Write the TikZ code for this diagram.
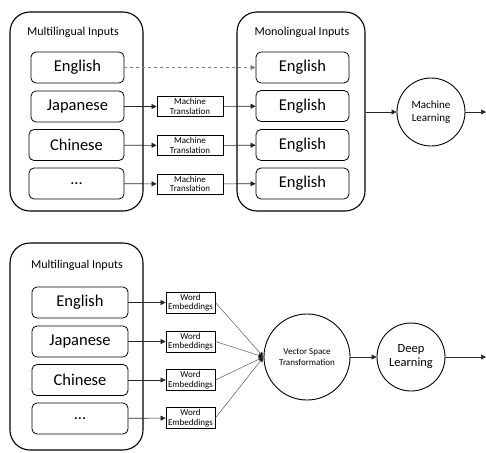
\documentclass[tikz,border=0pt]{standalone}
\usepackage{fontspec}
\setmainfont{Carlito}
\usetikzlibrary{arrows.meta}

\begin{document}
\begin{tikzpicture}[x=1pt, y=-1pt, >={Triangle[length=5pt,width=5pt]},
    outerbox/.style={draw, line width=1.1pt, rounded corners=20pt, minimum width=133pt},
    langbox/.style={draw, line width=0.8pt, rounded corners=5pt, minimum height=31pt, font=\fontsize{16.5}{16}\selectfont},
    smallbox/.style={draw, line width=0.8pt, inner sep=1pt, align=center, font=\fontsize{9}{9.5}\selectfont},
    stage/.style={draw, circle, line width=0.9pt, inner sep=0pt, align=center},
    flow/.style={->, line width=0.6pt, draw=black!85}]
  \useasboundingbox (0,0) rectangle (486,452);

  % top: translate then learn
  \node[outerbox, minimum height=199pt] (multiT) at (76.5,111.5) {};
  \node[font=\fontsize{12}{12}\selectfont] (multiTlab) at (73,32) {Multilingual Inputs};
  \node[langbox, minimum width=93pt] (enT) at (77.5,67.5) {English};
  \node[langbox, minimum width=93pt] (jaT) at (77.5,106.5) {Japanese};
  \node[langbox, minimum width=95pt] (zhT) at (76.5,145) {Chinese};
  \node[langbox, minimum width=95pt] (dotsT) at (76.5,183.5) {...};

  \node[smallbox, minimum width=66pt, minimum height=20pt] (mtA) at (190,106.5) {Machine\\Translation};
  \node[smallbox, minimum width=66pt, minimum height=20pt] (mtB) at (190,145.5) {Machine\\Translation};
  \node[smallbox, minimum width=66pt, minimum height=20pt] (mtC) at (190,184) {Machine\\Translation};

  \node[outerbox, minimum width=128pt, minimum height=199pt] (monoT) at (301,111.5) {};
  \node[font=\fontsize{12}{12}\selectfont] (monoTlab) at (302,32) {Monolingual Inputs};
  \node[langbox, minimum width=93pt] (enR1) at (302.5,67.5) {English};
  \node[langbox, minimum width=93pt] (enR2) at (302.5,106) {English};
  \node[langbox, minimum width=93pt] (enR3) at (302.5,145) {English};
  \node[langbox, minimum width=93pt] (enR4) at (302.5,183.5) {English};

  \node[stage, minimum size=68pt, font=\fontsize{11}{12.5}\selectfont] (ml) at (431,112) {Machine\\Learning};
  \coordinate (mlOut) at (486,112);

  \draw[flow, gray, dashed] (enT) -- (enR1);
  \draw[flow] (jaT) -- (mtA);
  \draw[flow] (zhT) -- (mtB);
  \draw[flow] (dotsT) -- (mtC);
  \draw[flow] (mtA) -- (enR2);
  \draw[flow] (mtB) -- (enR3);
  \draw[flow] (mtC) -- (enR4);
  \draw[flow] (monoT.east |- ml) -- (ml);
  \draw[flow] (ml) -- (mlOut);

  % bottom: embed then learn
  \node[outerbox, minimum height=207pt] (multiB) at (76.5,346.5) {};
  \node[font=\fontsize{12}{12}\selectfont] (multiBlab) at (77,265) {Multilingual Inputs};
  \node[langbox, minimum width=96pt] (enB) at (80,302.5) {English};
  \node[langbox, minimum width=96pt] (jaB) at (80,341.5) {Japanese};
  \node[langbox, minimum width=96pt] (zhB) at (80,380) {Chinese};
  \node[langbox, minimum width=96pt] (dotsB) at (80,418.5) {...};

  \node[smallbox, minimum width=49pt, minimum height=21pt] (weA) at (190.5,302.5) {Word\\Embeddings};
  \node[smallbox, minimum width=49pt, minimum height=21pt] (weB) at (190.5,341.5) {Word\\Embeddings};
  \node[smallbox, minimum width=49pt, minimum height=21pt] (weC) at (190.5,380) {Word\\Embeddings};
  \node[smallbox, minimum width=49pt, minimum height=21pt] (weD) at (190.5,418) {Word\\Embeddings};

  \node[stage, minimum size=86pt, font=\fontsize{9}{10.5}\selectfont] (vst) at (307,357) {Vector Space\\Transformation};
  \node[stage, minimum size=68pt, font=\fontsize{12.5}{14}\selectfont] (dl) at (411,357) {Deep\\Learning};
  \coordinate (dlOut) at (486,357);

  \draw[flow] (enB) -- (weA);
  \draw[flow] (jaB) -- (weB);
  \draw[flow] (zhB) -- (weC);
  \draw[flow] (dotsB) -- (weD);
  \foreach \w in {weA,weB,weC,weD}
    \draw[-{Triangle[length=5pt,width=5pt,fill=black]}, line width=0.5pt, draw=black!65] (\w.east) -- (vst.west);
  \draw[flow] (vst) -- (dl);
  \draw[flow] (dl) -- (dlOut);
\end{tikzpicture}
\end{document}
